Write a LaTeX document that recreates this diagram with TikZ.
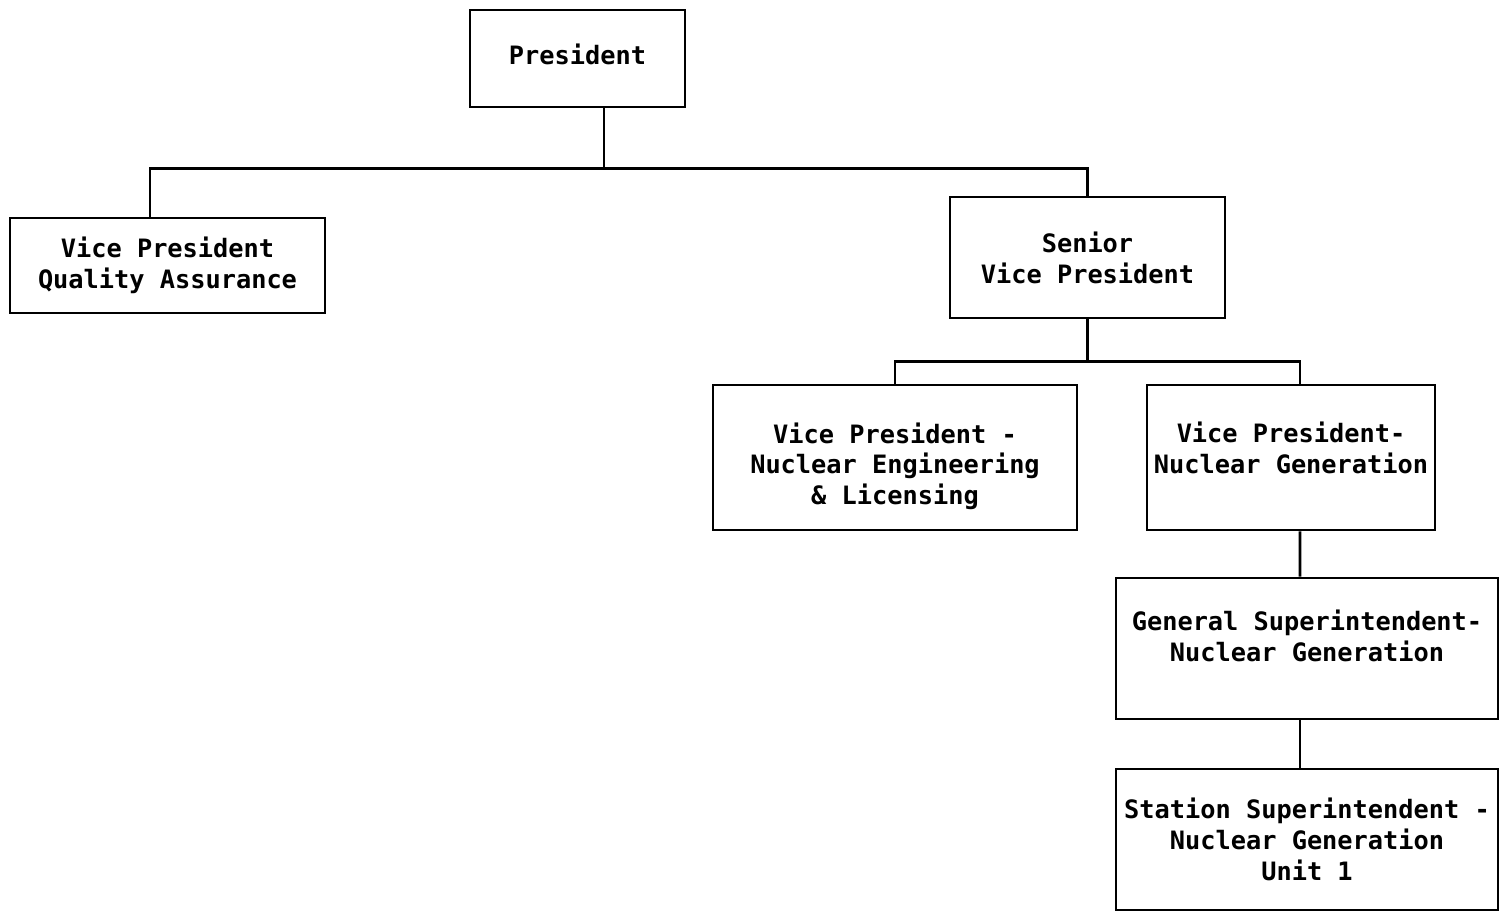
\documentclass[tikz,border=0pt]{standalone}
\usepackage{fontspec}
\setmonofont{DejaVu Sans Mono}
\usepackage{tikz}
\usetikzlibrary{positioning}
\tikzstyle{line} = [draw, line width=1.6pt]
\tikzstyle{post} = [rectangle, draw, line width=1.6pt, align=center, inner sep=0pt, font=\ttfamily\bfseries\fontsize{14.4}{17.6}\selectfont]

\begin{document}
\begin{tikzpicture}
	\useasboundingbox (0,0) rectangle (30,-18.34);
	\node [post, minimum width=4.3cm, minimum height=1.94cm, text depth=0.16cm] (pres) at (11.55,-1.17) {President};
	
	\node [post, below of=pres, node distance=4.14cm, xshift=-8.2cm, minimum width=6.3cm, minimum height=1.9cm] (vpqa) {Vice President\\Quality Assurance};
	\node [post, below of=pres, node distance=3.98cm, xshift=10.2cm, minimum width=5.5cm, minimum height=2.42cm] (svp) {Senior\\Vice President};
	
	\node [post, below of=svp, node distance=4cm, xshift=-3.85cm, minimum width=7.28cm, minimum height=2.9cm, text height=2cm] (vpne) {Vice President -\\Nuclear Engineering\\\& Licensing};
	\node [post, below of=svp, node distance=4cm, xshift=4.07cm, minimum width=5.76cm, minimum height=2.9cm, text depth=0.4cm] (vpng) {Vice President-\\Nuclear Generation};
	
	\node [post, below of=vpng, node distance=3.82cm, xshift=0.32cm, minimum width=7.64cm, minimum height=2.82cm, text depth=0.52cm] (gsng) {General Superintendent-\\Nuclear Generation};
	\node [post, below of=gsng, node distance=3.82cm, minimum width=7.64cm, minimum height=2.82cm] (ssng) {Station Superintendent -\\Nuclear Generation\\Unit 1};
	
	\path [line] ([xshift=5.3mm]pres.south) -- ++(0,-1.2) coordinate (bus1);
	\path [line] ([xshift=-3.5mm]vpqa.north) |- (bus1) -| (svp.north);
	\path [line] (svp.south) -- ++(0,-0.84) coordinate (bus2);
	\path [line] (vpne.north) |- (bus2) -| ([xshift=1.8mm]vpng.north);
	\path [line] ([xshift=1.8mm]vpng.south) -- ([xshift=-1.4mm]gsng.north);
	\path [line] ([xshift=-1.4mm]gsng.south) -- ([xshift=-1.4mm]ssng.north);
\end{tikzpicture}
\end{document}
